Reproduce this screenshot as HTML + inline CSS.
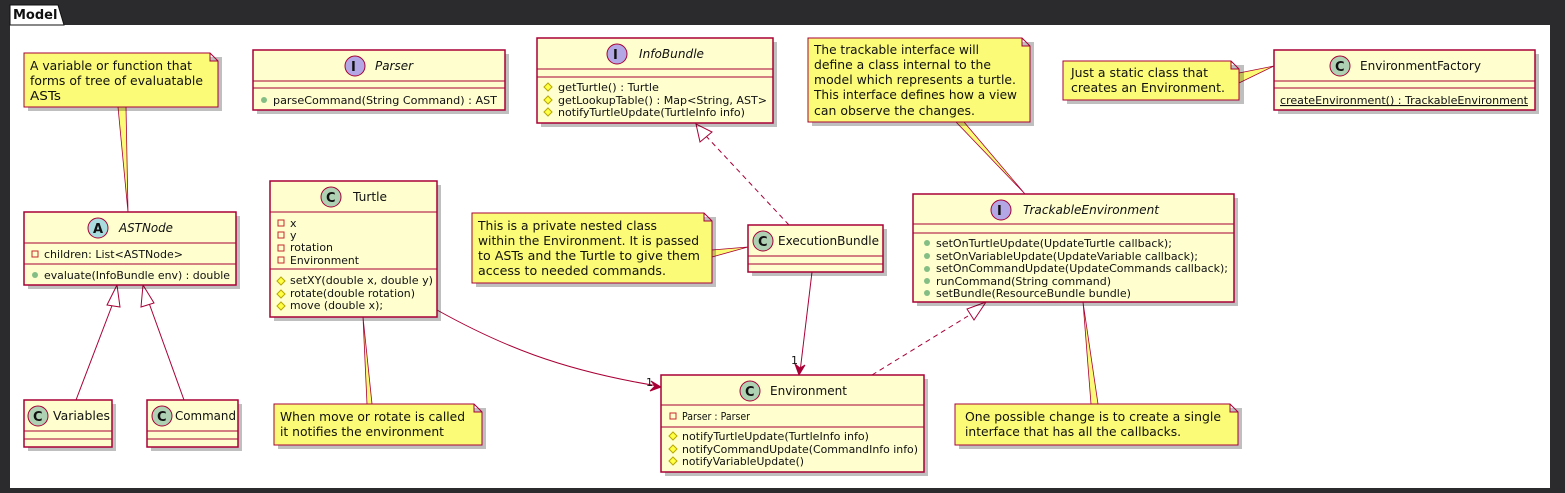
<!DOCTYPE html>
<html><head><meta charset="utf-8"><style>
html,body{margin:0;padding:0;background:#2b2b2e;}
svg{display:block}
text{font-family:"DejaVu Sans","Liberation Sans",sans-serif;fill:#111;}
.n{font-size:12px}
.m{font-size:11px}
.h{font-size:12px}
.i{font-style:italic}
.box{fill:#fefece;stroke:#a80036;stroke-width:1.5}
.note{fill:#fbfb77;stroke:#a80036;stroke-width:1}
.ln{stroke:#a80036;stroke-width:1;fill:none}
.sh{fill:#000;opacity:.25}
</style></head><body>
<svg width="1565" height="493" viewBox="0 0 1565 493">
<rect x="0" y="0" width="1565" height="493" fill="#2b2b2e"/>
<rect x="10" y="25" width="1540" height="463" fill="#fff"/>
<path d="M10 25 L10 5 L58 5 L64 25 Z" fill="#fff" stroke="#111" stroke-width="1"/>
<text x="13" y="19" style="font-size:13px;font-weight:bold">Model</text>

<!-- connectors -->
<path d="M118 107 L128 212 L126 107 Z" fill="#fbfb77" stroke="#a80036" stroke-width=".8"/>
<path d="M363 317 L372 404 L367 404 Z M363 317 L367 404" fill="#fbfb77" stroke="#a80036" stroke-width=".8"/>
<path d="M712 250 L748 247 L712 257 Z" fill="#fbfb77" stroke="#a80036" stroke-width=".8"/>
<path d="M956 122 L1025 194 L964 122 Z" fill="#fbfb77" stroke="#a80036" stroke-width=".8"/>
<path d="M1239 73 L1274 66 L1239 83 Z" fill="#fbfb77" stroke="#a80036" stroke-width=".8"/>
<path d="M1083 302 L1091 404 L1098 404 Z" fill="#fbfb77" stroke="#a80036" stroke-width=".8"/>

<line class="ln" x1="76" y1="400" x2="113" y2="303"/>
<path d="M117 285 L107 305 L120 307 Z" fill="#fff" stroke="#a80036"/>
<line class="ln" x1="184" y1="400" x2="149" y2="303"/>
<path d="M143 285 L141 307 L154 303 Z" fill="#fff" stroke="#a80036"/>
<line class="ln" x1="789" y1="225" x2="706" y2="136" stroke-dasharray="5,4"/>
<path d="M696 124 L700 142 L712 132 Z" fill="#fff" stroke="#a80036"/>
<line class="ln" x1="872" y1="375" x2="968" y2="316" stroke-dasharray="5,4"/>
<path d="M986 302 L967 309 L974 320 Z" fill="#fff" stroke="#a80036"/>
<path class="ln" d="M437 310 C 500 345, 560 370, 658 386"/>
<path d="M661 387 L651 381 L655 386 L650 391 Z" fill="#a80036" stroke="#a80036"/>
<text x="646" y="386" class="m">1</text>
<line class="ln" x1="812" y1="272" x2="800" y2="372"/>
<path d="M799 375 L795 364 L800 368 L805 365 Z" fill="#a80036" stroke="#a80036"/>
<text x="791" y="364" class="m">1</text>

<!-- Note1 -->
<rect class="sh" x="28" y="57" width="194" height="54"/>
<path class="note" d="M24 53 H210 L218 61 V107 H24 Z M210 53 V61 H218"/>
<text class="n" x="30" y="70" textLength="162" lengthAdjust="spacingAndGlyphs">A variable or function that</text>
<text class="n" x="30" y="85" textLength="173" lengthAdjust="spacingAndGlyphs">forms of tree of evaluatable</text>
<text class="n" x="30" y="100" textLength="31" lengthAdjust="spacingAndGlyphs">ASTs</text>

<!-- Parser -->
<rect class="sh" x="257" y="54" width="252" height="60"/>
<rect class="box" x="253" y="50" width="252" height="60"/>
<line class="ln" x1="253" y1="81" x2="505" y2="81"/><line class="ln" x1="253" y1="88" x2="505" y2="88"/>
<circle cx="355" cy="66" r="10" fill="#b4a7e5" stroke="#a80036"/><text x="351" y="71" style="font-size:13px;font-weight:bold">I</text>
<text class="h i" x="375" y="70" textLength="38" lengthAdjust="spacingAndGlyphs">Parser</text>
<circle cx="264" cy="100" r="3" fill="#84be84"/>
<text class="m" x="273" y="104" textLength="224" lengthAdjust="spacingAndGlyphs">parseCommand(String Command) : AST</text>

<!-- ASTNode -->
<rect class="sh" x="28" y="216" width="212" height="73"/>
<rect class="box" x="24" y="212" width="212" height="73"/>
<line class="ln" x1="24" y1="243" x2="236" y2="243"/><line class="ln" x1="24" y1="264" x2="236" y2="264"/>
<circle cx="98" cy="228" r="10" fill="#a9dcdf" stroke="#a80036"/><text x="93" y="233" style="font-size:13px;font-weight:bold">A</text>
<text class="h i" x="119" y="232" textLength="54" lengthAdjust="spacingAndGlyphs">ASTNode</text>
<rect x="32" y="251" width="6" height="6" fill="none" stroke="#c82930"/>
<text class="m" x="44" y="258" textLength="139" lengthAdjust="spacingAndGlyphs">children: List&lt;ASTNode&gt;</text>
<circle cx="35" cy="275" r="3" fill="#84be84"/>
<text class="m" x="44" y="279" textLength="186" lengthAdjust="spacingAndGlyphs">evaluate(InfoBundle env) : double</text>

<!-- Variables -->
<rect class="sh" x="28" y="404" width="88" height="47"/>
<rect class="box" x="24" y="400" width="88" height="47"/>
<line class="ln" x1="24" y1="431" x2="112" y2="431"/><line class="ln" x1="24" y1="439" x2="112" y2="439"/>
<circle cx="38" cy="416" r="10" fill="#add1b2" stroke="#a80036"/><text x="33" y="421" style="font-size:13px;font-weight:bold">C</text>
<text class="h" x="53" y="420" textLength="57" lengthAdjust="spacingAndGlyphs">Variables</text>
<!-- Command -->
<rect class="sh" x="151" y="404" width="91" height="47"/>
<rect class="box" x="147" y="400" width="91" height="47"/>
<line class="ln" x1="147" y1="431" x2="238" y2="431"/><line class="ln" x1="147" y1="439" x2="238" y2="439"/>
<circle cx="162" cy="416" r="10" fill="#add1b2" stroke="#a80036"/><text x="157" y="421" style="font-size:13px;font-weight:bold">C</text>
<text class="h" x="175" y="420" textLength="61" lengthAdjust="spacingAndGlyphs">Command</text>

<!-- Turtle -->
<rect class="sh" x="274" y="185" width="167" height="136"/>
<rect class="box" x="270" y="181" width="167" height="136"/>
<line class="ln" x1="270" y1="212" x2="437" y2="212"/><line class="ln" x1="270" y1="269" x2="437" y2="269"/>
<circle cx="331" cy="197" r="10" fill="#add1b2" stroke="#a80036"/><text x="326" y="202" style="font-size:13px;font-weight:bold">C</text>
<text class="h" x="353" y="201" textLength="34" lengthAdjust="spacingAndGlyphs">Turtle</text>
<g fill="none" stroke="#c82930"><rect x="278" y="220" width="6" height="6"/><rect x="278" y="232" width="6" height="6"/><rect x="278" y="245" width="6" height="6"/><rect x="278" y="257" width="6" height="6"/></g>
<text class="m" x="290" y="227">x</text><text class="m" x="290" y="239">y</text>
<text class="m" x="290" y="251" textLength="43" lengthAdjust="spacingAndGlyphs">rotation</text>
<text class="m" x="290" y="264" textLength="69" lengthAdjust="spacingAndGlyphs">Environment</text>
<g fill="#ffff44" stroke="#b8a800"><path d="M281 277 l4 4 l-4 4 l-4 -4z"/><path d="M281 290 l4 4 l-4 4 l-4 -4z"/><path d="M281 302 l4 4 l-4 4 l-4 -4z"/></g>
<text class="m" x="290" y="284" textLength="143" lengthAdjust="spacingAndGlyphs">setXY(double x, double y)</text>
<text class="m" x="290" y="297" textLength="125" lengthAdjust="spacingAndGlyphs">rotate(double rotation)</text>
<text class="m" x="290" y="309" textLength="93" lengthAdjust="spacingAndGlyphs">move (double x);</text>

<!-- Turtle note -->
<rect class="sh" x="278" y="408" width="208" height="41"/>
<path class="note" d="M274 404 H474 L482 412 V445 H274 Z M474 404 V412 H482"/>
<text class="n" x="280" y="421" textLength="185" lengthAdjust="spacingAndGlyphs">When move or rotate is called</text>
<text class="n" x="280" y="436" textLength="164" lengthAdjust="spacingAndGlyphs">it notifies the environment</text>

<!-- InfoBundle -->
<rect class="sh" x="541" y="42" width="236" height="85"/>
<rect class="box" x="537" y="38" width="236" height="85"/>
<line class="ln" x1="537" y1="69" x2="773" y2="69"/><line class="ln" x1="537" y1="77" x2="773" y2="77"/>
<circle cx="617" cy="54" r="10" fill="#b4a7e5" stroke="#a80036"/><text x="613" y="59" style="font-size:13px;font-weight:bold">I</text>
<text class="h i" x="639" y="58" textLength="65" lengthAdjust="spacingAndGlyphs">InfoBundle</text>
<g fill="#ffff44" stroke="#b8a800"><path d="M548 83 l4 4 l-4 4 l-4 -4z"/><path d="M548 96 l4 4 l-4 4 l-4 -4z"/><path d="M548 108 l4 4 l-4 4 l-4 -4z"/></g>
<text class="m" x="558" y="91" textLength="101" lengthAdjust="spacingAndGlyphs">getTurtle() : Turtle</text>
<text class="m" x="558" y="104" textLength="209" lengthAdjust="spacingAndGlyphs">getLookupTable() : Map&lt;String, AST&gt;</text>
<text class="m" x="558" y="116" textLength="187" lengthAdjust="spacingAndGlyphs">notifyTurtleUpdate(TurtleInfo info)</text>

<!-- exec note -->
<rect class="sh" x="476" y="217" width="240" height="70"/>
<path class="note" d="M472 213 H704 L712 221 V283 H472 Z M704 213 V221 H712"/>
<text class="n" x="478" y="230" textLength="179" lengthAdjust="spacingAndGlyphs">This is a private nested class</text>
<text class="n" x="478" y="245" textLength="221" lengthAdjust="spacingAndGlyphs">within the Environment. It is passed</text>
<text class="n" x="478" y="260" textLength="222" lengthAdjust="spacingAndGlyphs">to ASTs and the Turtle to give them</text>
<text class="n" x="478" y="275" textLength="188" lengthAdjust="spacingAndGlyphs">access to needed commands.</text>

<!-- ExecutionBundle -->
<rect class="sh" x="752" y="229" width="135" height="47"/>
<rect class="box" x="748" y="225" width="135" height="47"/>
<line class="ln" x1="748" y1="256" x2="883" y2="256"/><line class="ln" x1="748" y1="264" x2="883" y2="264"/>
<circle cx="763" cy="241" r="10" fill="#add1b2" stroke="#a80036"/><text x="758" y="246" style="font-size:13px;font-weight:bold">C</text>
<text class="h" x="778" y="245" textLength="101" lengthAdjust="spacingAndGlyphs">ExecutionBundle</text>

<!-- trackable note -->
<rect class="sh" x="812" y="42" width="222" height="84"/>
<path class="note" d="M808 38 H1022 L1030 46 V122 H808 Z M1022 38 V46 H1030"/>
<text class="n" x="814" y="54" textLength="165" lengthAdjust="spacingAndGlyphs">The trackable interface will</text>
<text class="n" x="814" y="69" textLength="177" lengthAdjust="spacingAndGlyphs">define a class internal to the</text>
<text class="n" x="814" y="84" textLength="202" lengthAdjust="spacingAndGlyphs">model which represents a turtle.</text>
<text class="n" x="814" y="99" textLength="203" lengthAdjust="spacingAndGlyphs">This interface defines how a view</text>
<text class="n" x="814" y="115" textLength="161" lengthAdjust="spacingAndGlyphs">can observe the changes.</text>

<!-- TrackableEnvironment -->
<rect class="sh" x="917" y="198" width="321" height="108"/>
<rect class="box" x="913" y="194" width="321" height="108"/>
<line class="ln" x1="913" y1="224" x2="1234" y2="224"/><line class="ln" x1="913" y1="233" x2="1234" y2="233"/>
<circle cx="1001" cy="210" r="10" fill="#b4a7e5" stroke="#a80036"/><text x="997" y="215" style="font-size:13px;font-weight:bold">I</text>
<text class="h i" x="1023" y="214" textLength="136" lengthAdjust="spacingAndGlyphs">TrackableEnvironment</text>
<g fill="#84be84"><circle cx="927" cy="243" r="3"/><circle cx="927" cy="256" r="3"/><circle cx="927" cy="269" r="3"/><circle cx="927" cy="281" r="3"/><circle cx="927" cy="293" r="3"/></g>
<text class="m" x="936" y="247" textLength="236" lengthAdjust="spacingAndGlyphs">setOnTurtleUpdate(UpdateTurtle callback);</text>
<text class="m" x="936" y="260" textLength="262" lengthAdjust="spacingAndGlyphs">setOnVariableUpdate(UpdateVariable callback);</text>
<text class="m" x="936" y="272" textLength="292" lengthAdjust="spacingAndGlyphs">setOnCommandUpdate(UpdateCommands callback);</text>
<text class="m" x="936" y="285" textLength="175" lengthAdjust="spacingAndGlyphs">runCommand(String command)</text>
<text class="m" x="936" y="297" textLength="195" lengthAdjust="spacingAndGlyphs">setBundle(ResourceBundle bundle)</text>

<!-- factory note -->
<rect class="sh" x="1067" y="65" width="177" height="39"/>
<path class="note" d="M1063 61 H1231 L1239 69 V100 H1063 Z M1231 61 V69 H1239"/>
<text class="n" x="1071" y="77" textLength="137" lengthAdjust="spacingAndGlyphs">Just a static class that</text>
<text class="n" x="1071" y="92" textLength="154" lengthAdjust="spacingAndGlyphs">creates an Environment.</text>

<!-- EnvironmentFactory -->
<rect class="sh" x="1278" y="54" width="261" height="60"/>
<rect class="box" x="1274" y="50" width="261" height="60"/>
<line class="ln" x1="1274" y1="81" x2="1535" y2="81"/><line class="ln" x1="1274" y1="88" x2="1535" y2="88"/>
<circle cx="1340" cy="66" r="10" fill="#add1b2" stroke="#a80036"/><text x="1335" y="71" style="font-size:13px;font-weight:bold">C</text>
<text class="h" x="1360" y="70" textLength="121" lengthAdjust="spacingAndGlyphs">EnvironmentFactory</text>
<text class="m" x="1280" y="104" text-decoration="underline" textLength="248" lengthAdjust="spacingAndGlyphs">createEnvironment() : TrackableEnvironment</text>

<!-- Environment -->
<rect class="sh" x="665" y="379" width="263" height="97"/>
<rect class="box" x="661" y="375" width="263" height="97"/>
<line class="ln" x1="661" y1="405" x2="924" y2="405"/><line class="ln" x1="661" y1="427" x2="924" y2="427"/>
<circle cx="750" cy="391" r="10" fill="#add1b2" stroke="#a80036"/><text x="745" y="396" style="font-size:13px;font-weight:bold">C</text>
<text class="h" x="770" y="395" textLength="77" lengthAdjust="spacingAndGlyphs">Environment</text>
<rect x="670" y="413" width="6" height="6" fill="none" stroke="#c82930"/>
<text class="m" x="682" y="420" textLength="68" lengthAdjust="spacingAndGlyphs">Parser : Parser</text>
<g fill="#ffff44" stroke="#b8a800"><path d="M673 432 l4 4 l-4 4 l-4 -4z"/><path d="M673 445 l4 4 l-4 4 l-4 -4z"/><path d="M673 457 l4 4 l-4 4 l-4 -4z"/></g>
<text class="m" x="682" y="440" textLength="187" lengthAdjust="spacingAndGlyphs">notifyTurtleUpdate(TurtleInfo info)</text>
<text class="m" x="682" y="453" textLength="236" lengthAdjust="spacingAndGlyphs">notifyCommandUpdate(CommandInfo info)</text>
<text class="m" x="682" y="465" textLength="122" lengthAdjust="spacingAndGlyphs">notifyVariableUpdate()</text>

<!-- bottom right note -->
<rect class="sh" x="959" y="408" width="283" height="41"/>
<path class="note" d="M955 404 H1230 L1238 412 V445 H955 Z M1230 404 V412 H1238"/>
<text class="n" x="965" y="421" textLength="256" lengthAdjust="spacingAndGlyphs">One possible change is to create a single</text>
<text class="n" x="965" y="436" textLength="216" lengthAdjust="spacingAndGlyphs">interface that has all the callbacks.</text>
</svg>
</body></html>
